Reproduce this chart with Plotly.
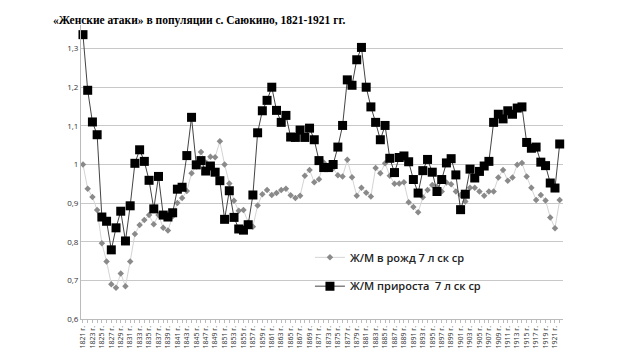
import plotly.graph_objects as go

years = list(range(1821, 1923))

birth_ratio = [
    1.000, 0.937, 0.916, 0.882, 0.796, 0.749, 0.690, 0.681, 0.718, 0.685,
    0.749, 0.820, 0.843, 0.856, 0.869, 0.845, 0.869, 0.836, 0.829, 0.866,
    0.900, 0.913, 0.931, 0.977, 0.995, 1.032, 1.005, 1.020, 1.019, 1.060,
    1.000, 0.951, 0.906, 0.880, 0.882, 0.850, 0.839, 0.894, 0.923, 0.934,
    0.921, 0.926, 0.934, 0.937, 0.920, 0.913, 0.919, 0.971, 0.986, 0.954,
    0.962, 1.005, 0.995, 0.990, 0.972, 0.969, 1.012, 0.967, 0.919, 0.940,
    0.927, 0.917, 0.991, 0.977, 1.003, 0.971, 0.950, 0.951, 0.954, 0.902,
    0.890, 0.876, 0.915, 0.934, 0.947, 0.942, 0.930, 0.953, 0.949, 0.930,
    0.921, 0.904, 0.940, 0.940, 0.930, 0.919, 0.930, 0.930, 0.966, 0.986,
    0.958, 0.966, 0.999, 1.004, 0.969, 0.940, 0.908, 0.921, 0.907, 0.863,
    0.835, 0.908,
]

growth_ratio = [
    1.336, 1.192, 1.110, 1.077, 0.864, 0.853, 0.779, 0.836, 0.879, 0.802,
    0.893, 1.003, 1.038, 1.008, 0.959, 0.885, 0.969, 0.869, 0.864, 0.875,
    0.936, 0.941, 1.023, 1.122, 0.999, 1.010, 0.983, 0.996, 0.980, 0.958,
    0.858, 0.932, 0.863, 0.833, 0.830, 0.844, 0.921, 1.082, 1.139, 1.166,
    1.200, 1.140, 1.109, 1.127, 1.071, 1.070, 1.089, 1.070, 1.094, 1.064,
    1.010, 0.992, 0.992, 1.000, 1.045, 1.101, 1.219, 1.205, 1.271, 1.303,
    1.200, 1.149, 1.109, 1.064, 1.101, 1.016, 0.979, 1.018, 1.022, 1.007,
    0.961, 0.926, 0.984, 1.013, 0.980, 0.930, 0.961, 1.004, 1.015, 0.973,
    0.883, 0.923, 0.988, 0.965, 0.982, 0.996, 1.008, 1.109, 1.130, 1.118,
    1.139, 1.130, 1.146, 1.149, 1.057, 1.042, 1.045, 1.006, 0.997, 0.952,
    0.939, 1.053,
]

tick_years = years[0:101:2]
tick_labels = [f"{y} г." for y in tick_years]
y_ticks = [0.6, 0.7, 0.8, 0.9, 1.0, 1.1, 1.2, 1.3]
y_labels = ["0,6", "0,7", "0,8", "0,9", "1", "1,1", "1,2", "1,3"]

name_birth = "Ж/М в рожд 7 л ск ср"
name_growth = "Ж/М прироста  7 л ск ср"
title_text = "«Женские атаки» в популяции с. Саюкино, 1821-1921 гг."

fig = go.Figure()
fig.add_trace(go.Scatter(
    x=years, y=birth_ratio, name=name_birth, mode="lines+markers",
    line=dict(color="#d4d4d4", width=1),
    marker=dict(symbol="diamond", size=5, color="#8a8a8a"),
    cliponaxis=False, legend="legend",
))
fig.add_trace(go.Scatter(
    x=years, y=growth_ratio, name=name_growth, mode="lines+markers",
    line=dict(color="#444444", width=1),
    marker=dict(symbol="square", size=9, color="#000000"),
    cliponaxis=False, legend="legend2",
))

fig.update_layout(
    width=640, height=360,
    margin=dict(l=73, r=85, t=17, b=49),
    paper_bgcolor="white", plot_bgcolor="white",
    font=dict(family="Open Sans, DejaVu Sans, sans-serif", color="#333333"),
    title=dict(
        text=title_text,
        font=dict(family="Liberation Serif", size=11.5, color="#000000", weight="bold"),
        x=45 / 640, xanchor="left", xref="container",
        y=1 - 12 / 360, yanchor="middle", yref="container",
        pad=dict(l=0, r=0, t=0, b=0),
    ),
    legend=dict(
        x=0.475, y=0.259, xanchor="left", yanchor="top",
        bgcolor="rgba(0,0,0,0)", font=dict(size=11, color="#222222", weight=600),
    ),
    legend2=dict(
        x=0.475, y=0.161, xanchor="left", yanchor="top",
        bgcolor="rgba(0,0,0,0)", font=dict(size=11, color="#222222", weight=600),
    ),
    showlegend=True,
)

fig.update_xaxes(
    range=[1820.58, 1922.7],
    tickmode="array", tickvals=tick_years, ticktext=tick_labels,
    tickangle=-90, tickfont=dict(size=7, color="#333333"),
    ticks="outside", ticklen=3, tickcolor="#bbbbbb",
    minor=dict(ticks="outside", ticklen=3, dtick=1, tick0=1821, tickcolor="#bbbbbb"),
    showgrid=False, showline=True, linecolor="#bbbbbb", linewidth=1,
    zeroline=False,
)
fig.update_yaxes(
    range=[0.6, 1.361],
    tickmode="array", tickvals=y_ticks, ticktext=y_labels,
    tickfont=dict(size=8, color="#333333"),
    showgrid=True, gridcolor="#c8c8c8", gridwidth=1,
    showline=True, linecolor="#bbbbbb", linewidth=1,
    zeroline=False, ticks="",
)

fig.write_html("out.html")
